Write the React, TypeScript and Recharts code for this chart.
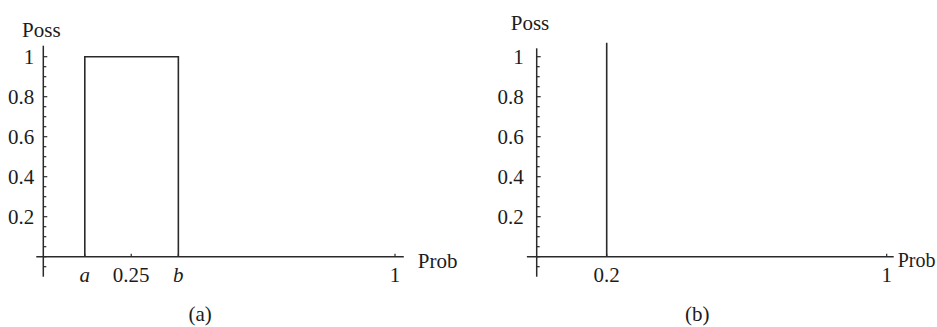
import React from "react";
import { LineChart, Line, XAxis, YAxis, ReferenceLine, Label } from "recharts";

// ---- data ----
const rectX = [0.118, 0.118, 0.384, 0.384];
const rectY = [0, 1, 1, 0];
const spikeX = [0.2, 0.2];
const spikeY = [0, 1.07];

const xTicksA = [0.118, 0.25, 0.384, 1];
const xLabelsA = ["a", "0.25", "b", "1"];
const xItalicA = [true, false, true, false];
const xTicksB = [0.2, 1];
const xLabelsB = ["0.2", "1"];

const yTicks = [
  -0.05, 0, 0.05, 0.1, 0.15, 0.2, 0.25, 0.3, 0.35, 0.4, 0.45, 0.5, 0.55, 0.6,
  0.65, 0.7, 0.75, 0.8, 0.85, 0.9, 0.95, 1,
];
const yMajor = [0.2, 0.4, 0.6, 0.8, 1];
const yMajorLabels = ["0.2", "0.4", "0.6", "0.8", "1"];

const xAxisTitle = "Prob";
const yAxisTitle = "Poss";
const captionA = "(a)";
const captionB = "(b)";

const dataA = rectX.map((x, i) => ({ x, y: rectY[i] }));
const dataB = spikeX.map((x, i) => ({ x, y: spikeY[i] }));

// ---- style ----
const FONT = "'Liberation Serif', 'Times New Roman', serif";
const INK = "#2a2a2a";
const TXT = "#1c1c1c";
const FS = 21;

const makeYTick = (gap: number) => (props: any) => {
  const { x, y, payload } = props;
  const v = payload.value;
  const k = yMajor.findIndex((m) => Math.abs(m - v) < 1e-6);
  const len = k >= 0 ? 4 : 3;
  return (
    <g>
      <line x1={x} x2={x + len} y1={y} y2={y} stroke={INK} strokeWidth={1.2} />
      {k >= 0 && (
        <text
          x={x - gap}
          y={y}
          dy="0.35em"
          textAnchor="end"
          fontFamily={FONT}
          fontSize={FS}
          fill={TXT}
        >
          {yMajorLabels[k]}
        </text>
      )}
    </g>
  );
};

const makeXTick = (labels: string[], italic: boolean[]) => (props: any) => {
  const { x, y, index } = props;
  return (
    <g>
      <line x1={x} x2={x} y1={y} y2={y - 3} stroke={INK} strokeWidth={1.2} />
      <text
        x={x}
        y={y + 25}
        textAnchor="middle"
        fontFamily={FONT}
        fontSize={FS}
        fontStyle={italic[index] ? "italic" : "normal"}
        fill={TXT}
      >
        {labels[index]}
      </text>
    </g>
  );
};

const labelStyle = { fontFamily: FONT, fontSize: FS, fill: TXT };
const labelStyleSmall = { fontFamily: FONT, fontSize: 20, fill: TXT };

export default function App() {
  return (
    <div
      style={{
        position: "absolute",
        left: 0,
        top: 0,
        width: 937,
        height: 327,
        background: "#fff",
        overflow: "hidden",
      }}
    >
      <div style={{ position: "absolute", left: 0, top: 0 }}>
        <LineChart
          width={470}
          height={327}
          data={dataA}
          margin={{ left: 42.3, right: 66.2, top: 40.7, bottom: 69.3 }}
        >
          <XAxis
            dataKey="x"
            type="number"
            domain={[0, 1.025]}
            allowDataOverflow
            ticks={xTicksA}
            interval={0}
            height={1}
            axisLine={false}
            tickLine={false}
            tickSize={0}
            tickMargin={0}
            tick={makeXTick(xLabelsA, xItalicA)}
          >
            <Label value={xAxisTitle} position="right" offset={14} dy={3} style={labelStyle} />
            <Label value={captionA} position="bottom" offset={48} dx={-23.5} style={labelStyle} />
          </XAxis>
          <YAxis
            type="number"
            domain={[0, 1.08]}
            allowDataOverflow
            ticks={yTicks}
            interval={0}
            width={1}
            axisLine={false}
            tickLine={false}
            tickSize={0}
            tickMargin={0}
            tick={makeYTick(9)}
          >
            <Label value={yAxisTitle} position="top" offset={3.7} dx={-1.5} style={labelStyle} />
          </YAxis>
          <ReferenceLine
            segment={[{ x: -0.02, y: 0 }, { x: 1.025, y: 0 }]}
            ifOverflow="visible"
            stroke={INK}
            strokeWidth={1.5}
          />
          <ReferenceLine
            segment={[{ x: 0, y: -0.1 }, { x: 0, y: 1.055 }]}
            ifOverflow="visible"
            stroke={INK}
            strokeWidth={1.5}
          />
          <Line
            dataKey="y"
            type="linear"
            stroke={INK}
            strokeWidth={1.6}
            dot={false}
            isAnimationActive={false}
          />
        </LineChart>
      </div>
      <div style={{ position: "absolute", left: 470, top: 0 }}>
        <LineChart
          width={467}
          height={327}
          data={dataB}
          margin={{ left: 65.7, right: 43.3, top: 40.7, bottom: 69.3 }}
        >
          <XAxis
            dataKey="x"
            type="number"
            domain={[0, 1.02]}
            allowDataOverflow
            ticks={xTicksB}
            interval={0}
            height={1}
            axisLine={false}
            tickLine={false}
            tickSize={0}
            tickMargin={0}
            tick={makeXTick(xLabelsB, [false, false])}
          >
            <Label value={xAxisTitle} position="right" offset={4} dy={3} style={labelStyleSmall} />
            <Label value={captionB} position="bottom" offset={48} dx={-18} style={labelStyle} />
          </XAxis>
          <YAxis
            type="number"
            domain={[0, 1.08]}
            allowDataOverflow
            ticks={yTicks}
            interval={0}
            width={1}
            axisLine={false}
            tickLine={false}
            tickSize={0}
            tickMargin={0}
            tick={makeYTick(13)}
          >
            <Label value={yAxisTitle} position="top" offset={10.7} dx={-6.2} style={labelStyle} />
          </YAxis>
          <ReferenceLine
            segment={[{ x: -0.028, y: 0 }, { x: 1.02, y: 0 }]}
            ifOverflow="visible"
            stroke={INK}
            strokeWidth={1.5}
          />
          <ReferenceLine
            segment={[{ x: 0, y: -0.1 }, { x: 0, y: 1.042 }]}
            ifOverflow="visible"
            stroke={INK}
            strokeWidth={1.5}
          />
          <Line
            dataKey="y"
            type="linear"
            stroke={INK}
            strokeWidth={1.6}
            dot={false}
            isAnimationActive={false}
          />
        </LineChart>
      </div>
    </div>
  );
}
